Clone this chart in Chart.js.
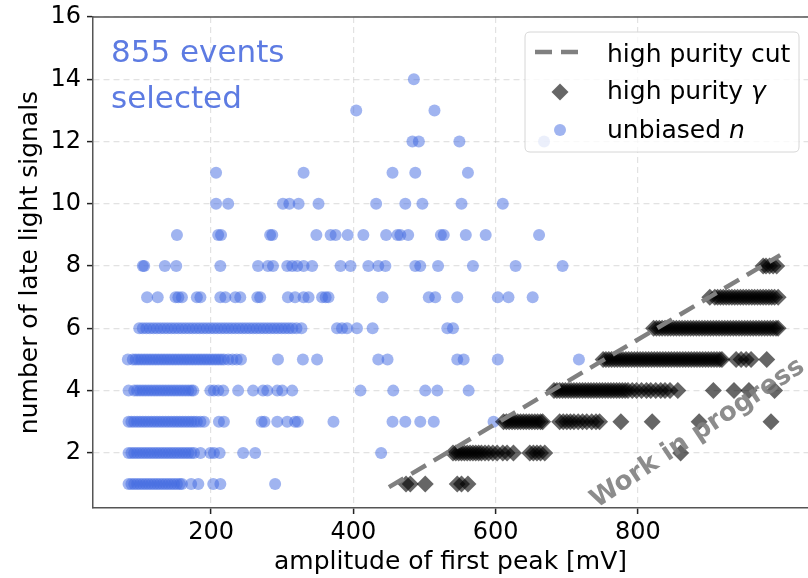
<!DOCTYPE html>
<html><head><meta charset="utf-8">
<script src="https://cdn.jsdelivr.net/npm/chart.js@4.4.1/dist/chart.umd.min.js"></script>
<style>html,body{margin:0;padding:0;background:#fff;}#wrap{width:808px;height:578px;}</style>
</head><body><div id="wrap"><canvas id="c" width="808" height="578"></canvas></div>
<script>
// ---- unbiased n: amplitude [mV] of events, one array per number of late light signals ----
const n1  = [84,88,92,96,100,104,108,112,116,120,124,128,132,136,140,144,148,152,156,159,172,182,203,213,290];
const n2  = [84,88,92,96,100,104,108,112,116,120,124,128,132,136,140,144,148,152,156,160,164,168,172,176,185,199,204,212,245,262,439];
const n3  = [84,88,92,96,100,104,108,112,116,120,124,128,132,136,140,144,148,152,156,160,164,168,172,176,180,185,190,211,218,271,275,293,307,318,322,372,455,473,494,513,597];
const n4  = [84,92,96,100,104,108,112,116,120,124,128,132,136,140,144,148,152,156,160,164,168,172,175,199,204,210,217,238,259,273,279,293,300,314,410,456,501,518,562];
const n5  = [83,90,94,98,102,106,110,114,118,122,126,130,134,138,142,146,150,154,158,162,166,170,174,178,182,186,190,194,198,202,206,210,214,218,224,230,236,242,294,329,349,435,448,546,555,603,717];
const n6  = [99,104,109,114,119,124,129,134,139,144,149,154,159,164,169,174,179,184,189,194,199,204,209,214,219,224,229,234,239,244,249,254,259,264,269,274,279,284,289,294,299,304,309,314,320,327,377,384,391,405,427,532,540];
const n7  = [110,125,150,154,159,180,185,213,220,234,241,265,269,308,318,330,337,356,361,365,441,506,515,546,603,618,652];
const n8  = [104,106,135,151,213,266,280,287,307,314,321,330,342,382,396,421,435,445,487,494,519,568,628,694];
const n9  = [152,210,214,283,286,348,368,375,392,414,446,462,466,477,523,527,558,586,661];
const n10 = [207,224,301,310,323,351,432,473,497,552,610];
const n11 = [207,330,455,487,561];
const n12 = [483,492,549,668];
const n13 = [404,514];
const n14 = [485];
const nRowsY = [1,2,3,4,5,6,7,8,9,10,11,12,13,14];

// ---- high purity gamma ----
const g1 = [474,480,501,546,552,561];
const g2 = [540,544,548,552,556,560,564,568,572,576,580,585,590,596,602,610,616,625,648,653,658,663,669,860];
const g3 = [611,615,619,623,627,631,635,639,643,647,651,655,659,663,666,690,695,700,705,710,716,722,728,735,741,746,776,820,886,987];
const g4 = [682,686,690,694,698,702,706,710,714,718,722,726,730,734,738,742,746,750,754,758,762,766,770,774,778,782,786,792,798,805,812,818,825,832,838,845,856,906,935,956,992];
const g5 = [751,755,759,763,767,771,775,779,783,787,791,795,799,803,807,811,815,819,823,827,831,835,839,843,847,851,855,859,863,867,871,875,879,883,887,891,895,899,903,907,911,915,918,938,945,952,959,981];
const g6 = [822,826,830,834,838,842,846,850,854,858,862,866,870,874,878,882,886,890,894,898,902,906,910,914,918,922,926,930,934,938,942,946,950,954,958,962,966,970,974,978,982,986,990,994,997];
const g7 = [901,908,912,916,920,924,928,932,936,940,944,948,952,956,960,964,968,972,976,980,984,988,992,997];
const g8 = [976,980,985,990,995];
const gRowsY = [1,2,3,4,5,6,7,8];

// ---- high purity cut line ----
const cutX = [450, 1000];
const cutY = [0.9, 8.35];

// ---- ticks ----
const xTicks = [200, 400, 600, 800];
const yTicks = [2, 4, 6, 8, 10, 12, 14, 16];

const nRows = [n1,n2,n3,n4,n5,n6,n7,n8,n9,n10,n11,n12,n13,n14];
const gRows = [g1,g2,g3,g4,g5,g6,g7,g8];
function toPoints(rows, ys){ const p=[]; rows.forEach((r,i)=>r.forEach(v=>p.push({x:v,y:ys[i]}))); return p; }

const FONT = 'DejaVu Sans';
const BLUE = 'rgba(65,105,225,0.5)';
const DIAM = 'rgba(0,0,0,0.6)';
const SPINE = '#555';

const overlay = {
  id: 'overlay',
  afterDatasetsDraw(chart){
    const {ctx, chartArea:a, scales:{x, y}} = chart;
    ctx.save();
    ctx.strokeStyle = SPINE; ctx.lineWidth = 1.5;
    ctx.beginPath(); ctx.moveTo(a.left, a.top); ctx.lineTo(a.right, a.top); ctx.stroke();

    ctx.save();
    ctx.translate(x.getPixelForValue(884), y.getPixelForValue(2.62));
    ctx.rotate(-33.5*Math.PI/180);
    ctx.font = 'bold 26px "' + FONT + '"';
    ctx.fillStyle = 'rgba(128,128,128,0.9)';
    ctx.textAlign = 'center'; ctx.textBaseline = 'middle';
    ctx.fillText('Work in progress', 0, 0);
    ctx.restore();

    ctx.font = '31px "' + FONT + '"';
    ctx.fillStyle = 'rgb(93,123,226)';
    ctx.textAlign = 'left'; ctx.textBaseline = 'alphabetic';
    ctx.fillText('855 events', a.left + 18, a.top + 45);
    ctx.fillText('selected', a.left + 18, a.top + 91);

    const L = a.right - 283, T = a.top + 15, W = 274, H = 120, R = 5;
    ctx.beginPath();
    ctx.moveTo(L+R, T); ctx.lineTo(L+W-R, T); ctx.quadraticCurveTo(L+W, T, L+W, T+R);
    ctx.lineTo(L+W, T+H-R); ctx.quadraticCurveTo(L+W, T+H, L+W-R, T+H);
    ctx.lineTo(L+R, T+H); ctx.quadraticCurveTo(L, T+H, L, T+H-R);
    ctx.lineTo(L, T+R); ctx.quadraticCurveTo(L, T, L+R, T); ctx.closePath();
    ctx.fillStyle = 'rgba(255,255,255,0.8)'; ctx.fill();
    ctx.strokeStyle = '#d6d6d6'; ctx.lineWidth = 1; ctx.stroke();

    const hx = L + 35;
    ctx.strokeStyle = 'rgb(128,128,128)'; ctx.lineWidth = 4.5; ctx.setLineDash([17,9]);
    ctx.beginPath(); ctx.moveTo(L+10, T+20); ctx.lineTo(L+56, T+20); ctx.stroke();
    ctx.setLineDash([]);
    ctx.fillStyle = DIAM; const d = 8.5, dy = T + 60;
    ctx.beginPath(); ctx.moveTo(hx-d, dy); ctx.lineTo(hx, dy-d); ctx.lineTo(hx+d, dy); ctx.lineTo(hx, dy+d); ctx.closePath(); ctx.fill();
    ctx.fillStyle = BLUE; ctx.beginPath(); ctx.arc(hx, T+98, 6, 0, Math.PI*2); ctx.fill();

    ctx.fillStyle = '#000'; ctx.textBaseline = 'alphabetic';
    const tx = L + 82;
    ctx.font = '25px "' + FONT + '"';
    ctx.fillText('high purity cut', tx, T + 30);
    ctx.fillText('high purity ', tx, T + 67);
    let w = ctx.measureText('high purity ').width;
    ctx.font = 'italic 25px "' + FONT + '"';
    ctx.fillText('γ', tx + w, T + 67);
    ctx.font = '25px "' + FONT + '"';
    ctx.fillText('unbiased ', tx, T + 106);
    w = ctx.measureText('unbiased ').width;
    ctx.font = 'italic 25px "' + FONT + '"';
    ctx.fillText('n', tx + w, T + 106);
    ctx.restore();
  }
};

new Chart(document.getElementById('c'), {
  data: {
    datasets: [
      { type:'line', label:'high purity cut', data: cutX.map((v,i)=>({x:v,y:cutY[i]})),
        borderColor:'rgb(128,128,128)', borderWidth:4.5, borderDash:[17,9], pointRadius:0, fill:false },
      { type:'scatter', label:'high purity γ', data: toPoints(gRows, gRowsY),
        pointStyle:'rectRot', pointRadius:8.5, backgroundColor:DIAM, borderWidth:0, pointHoverRadius:8.5 },
      { type:'scatter', label:'unbiased n', data: toPoints(nRows, nRowsY),
        pointStyle:'circle', pointRadius:6, backgroundColor:BLUE, borderWidth:0, pointHoverRadius:6 }
    ]
  },
  options: {
    responsive:false, animation:false, devicePixelRatio:1,
    layout:{ autoPadding:false, padding:{ left:0, right:0, top:17, bottom:0 } },
    plugins:{ legend:{display:false}, tooltip:{enabled:false} },
    scales:{
      x:{ type:'linear', min:34, max:1039,
        afterBuildTicks(s){ s.ticks = xTicks.map(v=>({value:v})); },
        afterFit(s){ s.height = 70; s.paddingRight = 0; s.paddingLeft = 0; },
        grid:{ color:'rgba(190,190,190,0.45)', lineWidth:1.2, tickLength:6, tickColor:'#222', tickWidth:1.5 },
        border:{ display:true, color:SPINE, width:1.5, dash:[6,4] },
        ticks:{ color:'#000', font:{family:FONT, size:24}, padding:4, maxRotation:0, autoSkip:false },
        title:{ display:true, text:'amplitude of first peak [mV]', color:'#000', font:{family:FONT, size:25}, padding:{top:0,bottom:1} }
      },
      y:{ type:'linear', min:0.23, max:16,
        afterBuildTicks(s){ s.ticks = yTicks.map(v=>({value:v})); },
        afterFit(s){ s.width = 93; s.paddingTop = 0; s.paddingBottom = 0; },
        grid:{ color:'rgba(190,190,190,0.45)', lineWidth:1.2, tickLength:6, tickColor:'#222', tickWidth:1.5 },
        border:{ display:true, color:SPINE, width:1.5, dash:[6,4] },
        ticks:{ color:'#000', font:{family:FONT, size:24}, padding:6, autoSkip:false },
        title:{ display:true, text:'number of late light signals', color:'#000', font:{family:FONT, size:25}, padding:{top:15,bottom:0} }
      }
    }
  },
  plugins:[overlay]
});
</script></body></html>
